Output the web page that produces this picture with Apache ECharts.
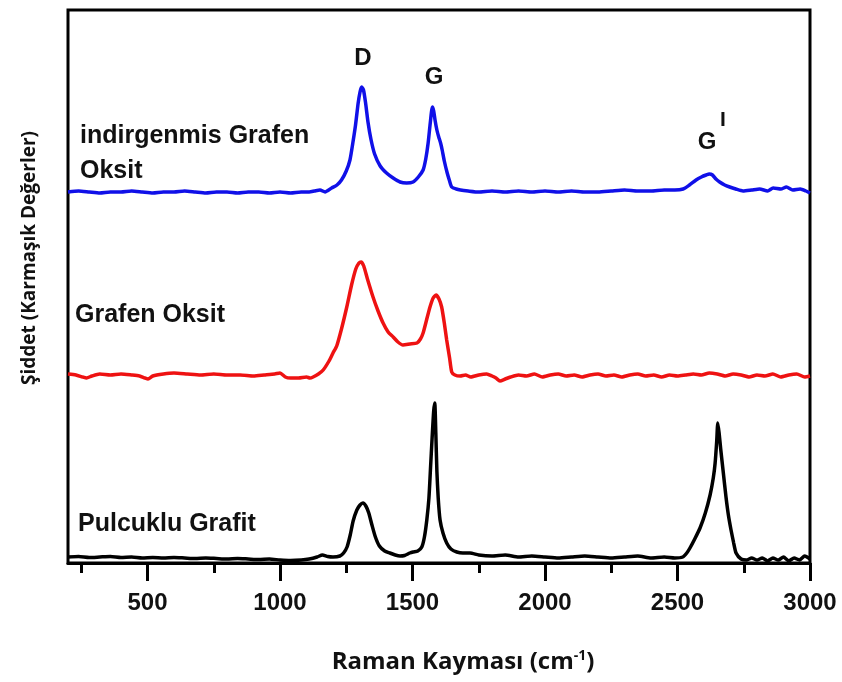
<!DOCTYPE html>
<html>
<head>
<meta charset="utf-8">
<script src="https://cdn.jsdelivr.net/npm/echarts@6/dist/echarts.min.js"></script>
<style>
  html, body { margin: 0; padding: 0; background: #fff; }
  #myChart { width: 842px; height: 682px; }
</style>
</head>
<body>
<div id="myChart"></div>
<script>
// x ekseni etiketleri ve tikleri
const majorTicks = [500, 1000, 1500, 2000, 2500, 3000]
const minorTicks = [250, 750, 1250, 1750, 2250, 2750]

// indirgenmis grafen oksit (mavi)
const rgoData = [[200,371],[240,372],[280,371],[320,370],[360,371],[400,371],[440,372],[480,371],[520,370],[560,371],[600,371],[640,372],[680,371],[720,370],[760,371],[800,371],[840,370],[880,371],[920,371],[960,370],[1000,371],[1040,370],[1080,371],[1110,371],[1130,372],[1151,373],[1170,371],[1195,375],[1215,378],[1232,383],[1250,392],[1264,403],[1276,422],[1285,438],[1295,460],[1302,471],[1308,476],[1315,473],[1323,460],[1332,441],[1343,424],[1357,409],[1378,397],[1402,390],[1427,385],[1453,381],[1478,380],[1502,381],[1522,386],[1540,393],[1550,404],[1559,420],[1567,440],[1575,456],[1580,452],[1585,443],[1592,433],[1599,426],[1606,420],[1612,413],[1620,402],[1631,390],[1640,382],[1648,376],[1665,374],[1681,373],[1710,372],[1750,371],[1800,372],[1850,371],[1900,372],[1950,371],[2000,372],[2050,371],[2100,372],[2150,371],[2200,371],[2250,372],[2300,373],[2350,372],[2400,372],[2450,373],[2490,373],[2521,374],[2545,378],[2570,383],[2590,386],[2608,388],[2620,389],[2632,388],[2645,384],[2659,381],[2678,378],[2697,376],[2720,374],[2747,372],[2780,373],[2810,374],[2840,372],[2861,375],[2890,374],[2911,376],[2935,373],[2963,374],[2985,372],[3000,370]]

// grafen oksit (kirmizi)
const goData = [[200,189],[230,188],[255,186],[270,185],[290,187],[320,189],[360,188],[400,189],[440,188],[470,187],[490,185],[502,184],[520,187],[560,189],[600,190],[650,189],[700,188],[750,189],[800,188],[850,188],[900,187],[940,188],[980,189],[1000,190],[1020,186],[1040,185],[1070,185],[1100,186],[1113,185],[1125,186],[1145,189],[1163,193],[1185,202],[1200,210],[1214,217],[1232,234],[1252,256],[1270,278],[1286,294],[1298,300],[1306,301],[1316,297],[1330,284],[1351,266],[1370,252],[1389,240],[1408,231],[1427,226],[1445,221],[1464,218],[1490,219],[1517,220],[1530,224],[1540,230],[1553,243],[1566,256],[1578,265],[1589,268],[1600,264],[1610,256],[1620,240],[1629,223],[1640,205],[1648,191],[1660,188],[1680,187],[1700,188],[1720,186],[1750,188],[1780,189],[1800,187],[1815,185],[1830,182],[1850,184],[1870,186],[1900,188],[1930,187],[1960,189],[1990,186],[2020,188],[2050,189],[2080,187],[2110,188],[2140,186],[2170,188],[2200,189],[2230,187],[2260,188],[2290,186],[2320,188],[2350,189],[2380,187],[2410,188],[2440,186],[2470,188],[2500,187],[2530,188],[2560,189],[2590,188],[2620,190],[2650,189],[2680,187],[2710,189],[2740,188],[2770,186],[2800,188],[2830,187],[2860,189],[2890,186],[2920,188],[2950,189],[2980,186],[3000,187]]

// pulcuklu grafit (siyah)
const grafitData = [[200,6],[240,6.5],[280,5.5],[320,6],[360,6.5],[400,5.5],[440,6],[480,5],[520,5.5],[560,5],[600,5.5],[640,5],[680,4.5],[720,5],[760,4.5],[800,4],[840,4.5],[880,4],[920,3.5],[960,4],[1000,3],[1040,2.5],[1080,3],[1110,4],[1140,6],[1160,8],[1180,6.5],[1200,6],[1226,7],[1240,10],[1253,16],[1265,28],[1276,42],[1290,53],[1302,58],[1313,60],[1324,57],[1335,50],[1347,38],[1360,26],[1375,17],[1395,12],[1415,10],[1435,8],[1453,7],[1470,7.5],[1490,10],[1502,11],[1520,12],[1535,16],[1545,26],[1554,43],[1562,65],[1568,95],[1574,125],[1580,152],[1584,160],[1588,130],[1592,92],[1597,65],[1604,43],[1615,30],[1629,20],[1645,14],[1667,11],[1690,10],[1717,10],[1750,8],[1800,7],[1850,8],[1900,6],[1950,7],[2000,6],[2050,5],[2100,6],[2150,7],[2200,6],[2250,5],[2300,6],[2350,7],[2400,5],[2450,6],[2490,5],[2520,6],[2535,10],[2547,15],[2565,24],[2585,35],[2605,50],[2623,68],[2635,85],[2642,100],[2648,122],[2652,140],[2657,130],[2663,114],[2673,90],[2683,66],[2692,48],[2702,33],[2712,20],[2721,10],[2740,4],[2760,3],[2780,5],[2800,3],[2820,5],[2840,2],[2860,5],[2880,3],[2900,6],[2920,2],[2940,5],[2960,3],[2980,7],[3000,4]]

const labelFamily = '"Liberation Sans", Arial, sans-serif'
const boldFont = 'bold 25px ' + labelFamily
const peakFont = 'bold 24px ' + labelFamily

let myChart = echarts.init(document.getElementById('myChart'))
let option = {
  animation: false,
  grid: {
    left: 68,
    right: 32,
    top: 10,
    bottom: 119,
    show: true,
    borderColor: '#000',
    borderWidth: 3,
  },
  xAxis: [{
    type: 'value',
    min: 200,
    max: 3000,
    splitLine: { show: false },
    axisLine: { lineStyle: { color: '#000', width: 3 } },
    axisTick: {
      customValues: majorTicks,
      length: 18,
      lineStyle: { color: '#000', width: 3 }
    },
    axisLabel: {
      customValues: majorTicks,
      formatter: v => String(v),
      margin: 28,
      color: '#111',
      fontSize: 24,
      fontWeight: 'bold',
      fontFamily: labelFamily
    }
  }, {
    // ara tikler
    type: 'value',
    min: 200,
    max: 3000,
    position: 'bottom',
    splitLine: { show: false },
    axisLine: { show: false },
    axisTick: {
      customValues: minorTicks,
      length: 10,
      lineStyle: { color: '#000', width: 3 }
    },
    axisLabel: { show: false }
  }],
  yAxis: {
    type: 'value',
    min: 0,
    max: 553,
    show: false
  },
  series: [
    {
      name: 'indirgenmis Grafen Oksit',
      type: 'line',
      data: rgoData,
      showSymbol: false,
      smooth: 0.2,
      lineStyle: { color: '#1010e8', width: 3.5 }
    },
    {
      name: 'Grafen Oksit',
      type: 'line',
      data: goData,
      showSymbol: false,
      smooth: 0.2,
      lineStyle: { color: '#ee1212', width: 3.5 }
    },
    {
      name: 'Pulcuklu Grafit',
      type: 'line',
      data: grafitData,
      showSymbol: false,
      smooth: 0.2,
      lineStyle: { color: '#000', width: 3.5 }
    }
  ],
  graphic: [
    { type: 'text', x: 80, y: 136, style: { text: 'indirgenmis Grafen', font: boldFont, fill: '#111', textVerticalAlign: 'middle' } },
    { type: 'text', x: 80, y: 171, style: { text: 'Oksit', font: boldFont, fill: '#111', textVerticalAlign: 'middle' } },
    { type: 'text', x: 75, y: 315, style: { text: 'Grafen Oksit', font: boldFont, fill: '#111', textVerticalAlign: 'middle' } },
    { type: 'text', x: 78, y: 524, style: { text: 'Pulcuklu Grafit', font: boldFont, fill: '#111', textVerticalAlign: 'middle' } },
    // pik etiketleri
    { type: 'text', x: 363, y: 58, style: { text: 'D', font: peakFont, fill: '#111', textAlign: 'center', textVerticalAlign: 'middle' } },
    { type: 'text', x: 434, y: 77, style: { text: 'G', font: peakFont, fill: '#111', textAlign: 'center', textVerticalAlign: 'middle' } },
    { type: 'text', x: 707, y: 142, style: { text: 'G', font: peakFont, fill: '#111', textAlign: 'center', textVerticalAlign: 'middle' } },
    { type: 'text', x: 723, y: 120, style: { text: 'I', font: 'bold 21px ' + labelFamily, fill: '#111', textAlign: 'center', textVerticalAlign: 'middle' } },
    // eksen basliklari
    {
      type: 'text', x: 463, y: 662,
      style: {
        text: '{a|Raman Kayması (cm}{s|-1}{a|)}',
        textAlign: 'center',
        textVerticalAlign: 'middle',
        rich: {
          a: { font: 'bold 24px "Open Sans", sans-serif', fill: '#111' },
          s: { font: 'bold 14px "Open Sans", sans-serif', fill: '#111', verticalAlign: 'top', padding: [0, 0, 12, 0] }
        }
      }
    },
    {
      type: 'text', x: 30, y: 258, rotation: Math.PI / 2,
      style: { text: 'Şiddet (Karmaşık Değerler)', font: 'bold 19px "Open Sans", sans-serif', fill: '#111', textAlign: 'center', textVerticalAlign: 'middle' }
    }
  ]
}
myChart.setOption(option)
</script>
</body>
</html>
